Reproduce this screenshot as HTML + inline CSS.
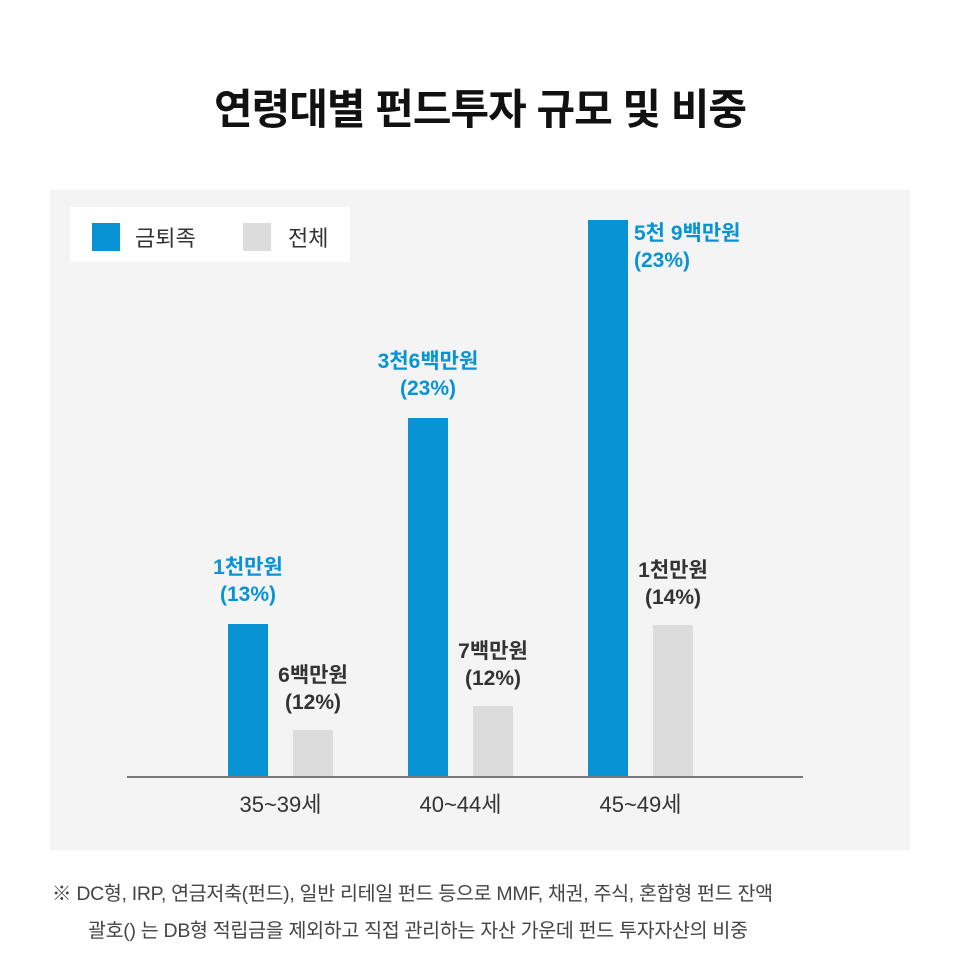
<!DOCTYPE html>
<html><head><meta charset="utf-8">
<style>
body{margin:0;background:#fff;}
#root{position:relative;width:960px;height:960px;font-family:"Liberation Sans","Noto Sans CJK KR",sans-serif;}
.title{position:absolute;top:76px;left:0;width:960px;text-align:center;font-size:42px;font-weight:bold;color:#111;letter-spacing:-1px;}
.foot{position:absolute;font-size:19.5px;color:#444;letter-spacing:-0.3px;white-space:nowrap;}
</style></head>
<body>
<div id="root">
<div class="title">연령대별 펀드투자 규모 및 비중</div>
<svg id="chart" width="960" height="960" style="position:absolute;left:0;top:0">
<rect x="50" y="190" width="860" height="660" fill="#f4f4f4"/>
<g>
<rect x="70" y="207" width="280" height="55" fill="#fff"/>
<rect x="92" y="223" width="28" height="28" fill="#0894d4"/>
<text x="135" y="246" font-size="22" fill="#333">금퇴족</text>
<rect x="243" y="223" width="28" height="28" fill="#dcdcdc"/>
<text x="288" y="246" font-size="22" fill="#333">전체</text>
</g>
<g id="bars"></g>
<line x1="127" y1="777" x2="803" y2="777" stroke="#777" stroke-width="2"/>
</svg>
<div class="foot" style="left:52px;top:877px">※ DC형, IRP, 연금저축(펀드), 일반 리테일 펀드 등으로 MMF, 채권, 주식, 혼합형 펀드 잔액</div>
<div class="foot" style="left:88px;top:914px">괄호() 는 DB형 적립금을 제외하고 직접 관리하는 자산 가운데 펀드 투자자산의 비중</div>
</div>
<script>
const categories=["35~39세","40~44세","45~49세"];
const retireeValues=[15.3,35.9,55.7];
const totalValues=[4.7,7.1,15.2];
const retireeLabels=[["1천만원","(13%)"],["3천6백만원","(23%)"],["5천 9백만원","(23%)"]];
const totalLabels=[["6백만원","(12%)"],["7백만원","(12%)"],["1천만원","(14%)"]];

const ns="http://www.w3.org/2000/svg";
const g=document.getElementById('bars');
const baseY=777, pxPerUnit=10, groupStart=248, groupStep=180, barW=40, offset2=65;
function y(v){return baseY-v*pxPerUnit;}
function mk(tag,attrs){const e=document.createElementNS(ns,tag);for(const k in attrs)e.setAttribute(k,attrs[k]);g.appendChild(e);return e;}
function label(lines,cx,top,color,anchor,name){
  lines.forEach((t,j)=>{
    const e=mk('text',{x:cx,y:top+j*27,'font-size':21,'font-weight':600,fill:color,'text-anchor':anchor});
    e.textContent=t;
    
    
  });
}
categories.forEach((c,i)=>{
  const cx=groupStart+i*groupStep;
  const b=mk('rect',{x:cx-barW/2,y:y(retireeValues[i]),width:barW,height:retireeValues[i]*pxPerUnit,fill:'#0894d4'});
  
  
  const cx2=cx+offset2;
  const b2=mk('rect',{x:cx2-barW/2,y:y(totalValues[i]),width:barW,height:totalValues[i]*pxPerUnit,fill:'#dcdcdc'});
  
  
  if(i===categories.length-1){
    label(retireeLabels[i],cx+barW/2+6,y(retireeValues[i])+20,'#0894d4','start','label-retiree-'+(i+1));
  }else{
    label(retireeLabels[i],cx,y(retireeValues[i])-50,'#0894d4','middle','label-retiree-'+(i+1));
  }
  label(totalLabels[i],cx2,y(totalValues[i])-48,'#333','middle','label-total-'+(i+1));
  const t=mk('text',{x:cx+offset2/2,y:812,'font-size':22,fill:'#333','text-anchor':'middle'});
  t.textContent=c;
  
  
});
</script>
</body></html>
